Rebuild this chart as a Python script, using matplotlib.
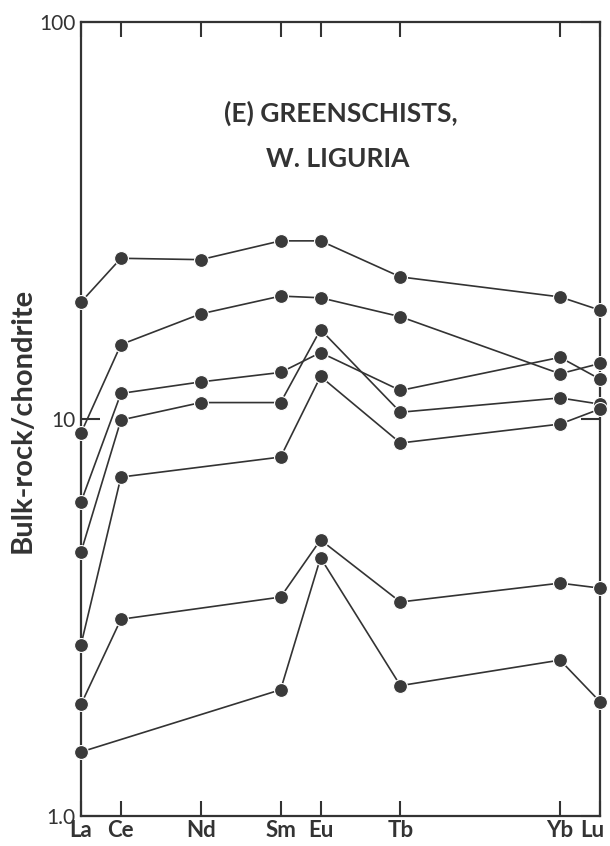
import numpy as np
import matplotlib
matplotlib.use("Agg")
import matplotlib.pyplot as plt
import matplotlib.transforms as mtransforms

# REE pattern, greenschists W. Liguria (chondrite normalised)
elements = ["La", "Ce", "Nd", "Sm", "Eu", "Tb", "Yb", "Lu"]
xpos = [0, 1, 3, 5, 6, 8, 12, 13]
nan = np.nan

sample_1 = [19.7, 25.4, 25.2, 28.1, 28.1, 22.8, 20.3, 18.8]
sample_2 = [9.22, 15.4, 18.4, 20.4, 20.2, 18.1, 13.0, 13.8]
sample_3 = [6.18, 11.6, 12.4, 13.1, 14.7, 11.8, 14.3, 12.6]
sample_4 = [4.62, 9.94, 11.0, 11.0, 16.8, 10.4, 11.3, 10.9]
sample_5 = [2.70, 7.14, nan, 8.02, 12.8, 8.70, 9.71, 10.6]
sample_6 = [1.91, 3.13, nan, 3.56, 4.96, 3.46, 3.86, 3.75]
sample_7 = [1.45, nan, nan, 2.08, 4.47, 2.13, 2.47, 1.94]
samples = [sample_1, sample_2, sample_3, sample_4, sample_5, sample_6, sample_7]

ink = "#333333"
plt.rcParams["font.family"] = ["Lato", "DejaVu Sans"]

fig = plt.figure(figsize=(6.1, 8.46), dpi=100)
ax = fig.add_axes([81 / 610, 30 / 846, 519 / 610, 794 / 846])

for s in samples:
    x = np.array(xpos, dtype=float)
    y = np.array(s, dtype=float)
    ok = ~np.isnan(y)
    ax.plot(x[ok], y[ok], "-", color=ink, lw=1.2, marker="o", ms=10,
            mfc="#3a3a3a", mec="white", mew=0.8, clip_on=False, zorder=3)

ax.set_yscale("log")
ax.set_ylim(1, 100)
ax.set_xlim(0, 13)

ax.set_yticks([1, 10, 100])
ax.set_yticklabels(["1.0", "10", "100"])
ax.yaxis.set_minor_locator(matplotlib.ticker.NullLocator())
ax.tick_params(axis="y", which="major", direction="in", length=14, width=1.5,
               color=ink, labelcolor=ink, labelsize=15, pad=4, right=True)

ax.set_xticks(xpos)
ax.set_xticklabels(elements, fontweight="bold")
ax.tick_params(axis="x", which="major", direction="in", length=11, width=1.5,
               color=ink, labelcolor=ink, labelsize=16, pad=3, top=True)

# nudge the last label (Lu) left so it stays inside the picture
lu = ax.get_xticklabels()[-1]
lu.set_transform(lu.get_transform() + mtransforms.ScaledTranslation(-8 / 100, 0, fig.dpi_scale_trans))

for sp in ax.spines.values():
    sp.set_linewidth(1.6)
    sp.set_color(ink)

# y label placed by hand so it is not cut at the left edge
fig.text(23 / 610, 0.503, "Bulk-rock/chondrite", rotation=90, ha="center",
         va="center", fontsize=21, fontweight="bold", color=ink)

ax.text(0.50, 0.885, "(E) GREENSCHISTS,", transform=ax.transAxes,
        ha="center", va="center", fontsize=19, fontweight="bold", color=ink)
ax.text(0.495, 0.828, "W. LIGURIA", transform=ax.transAxes,
        ha="center", va="center", fontsize=19, fontweight="bold", color=ink)

fig.savefig("out.png", dpi=100)
